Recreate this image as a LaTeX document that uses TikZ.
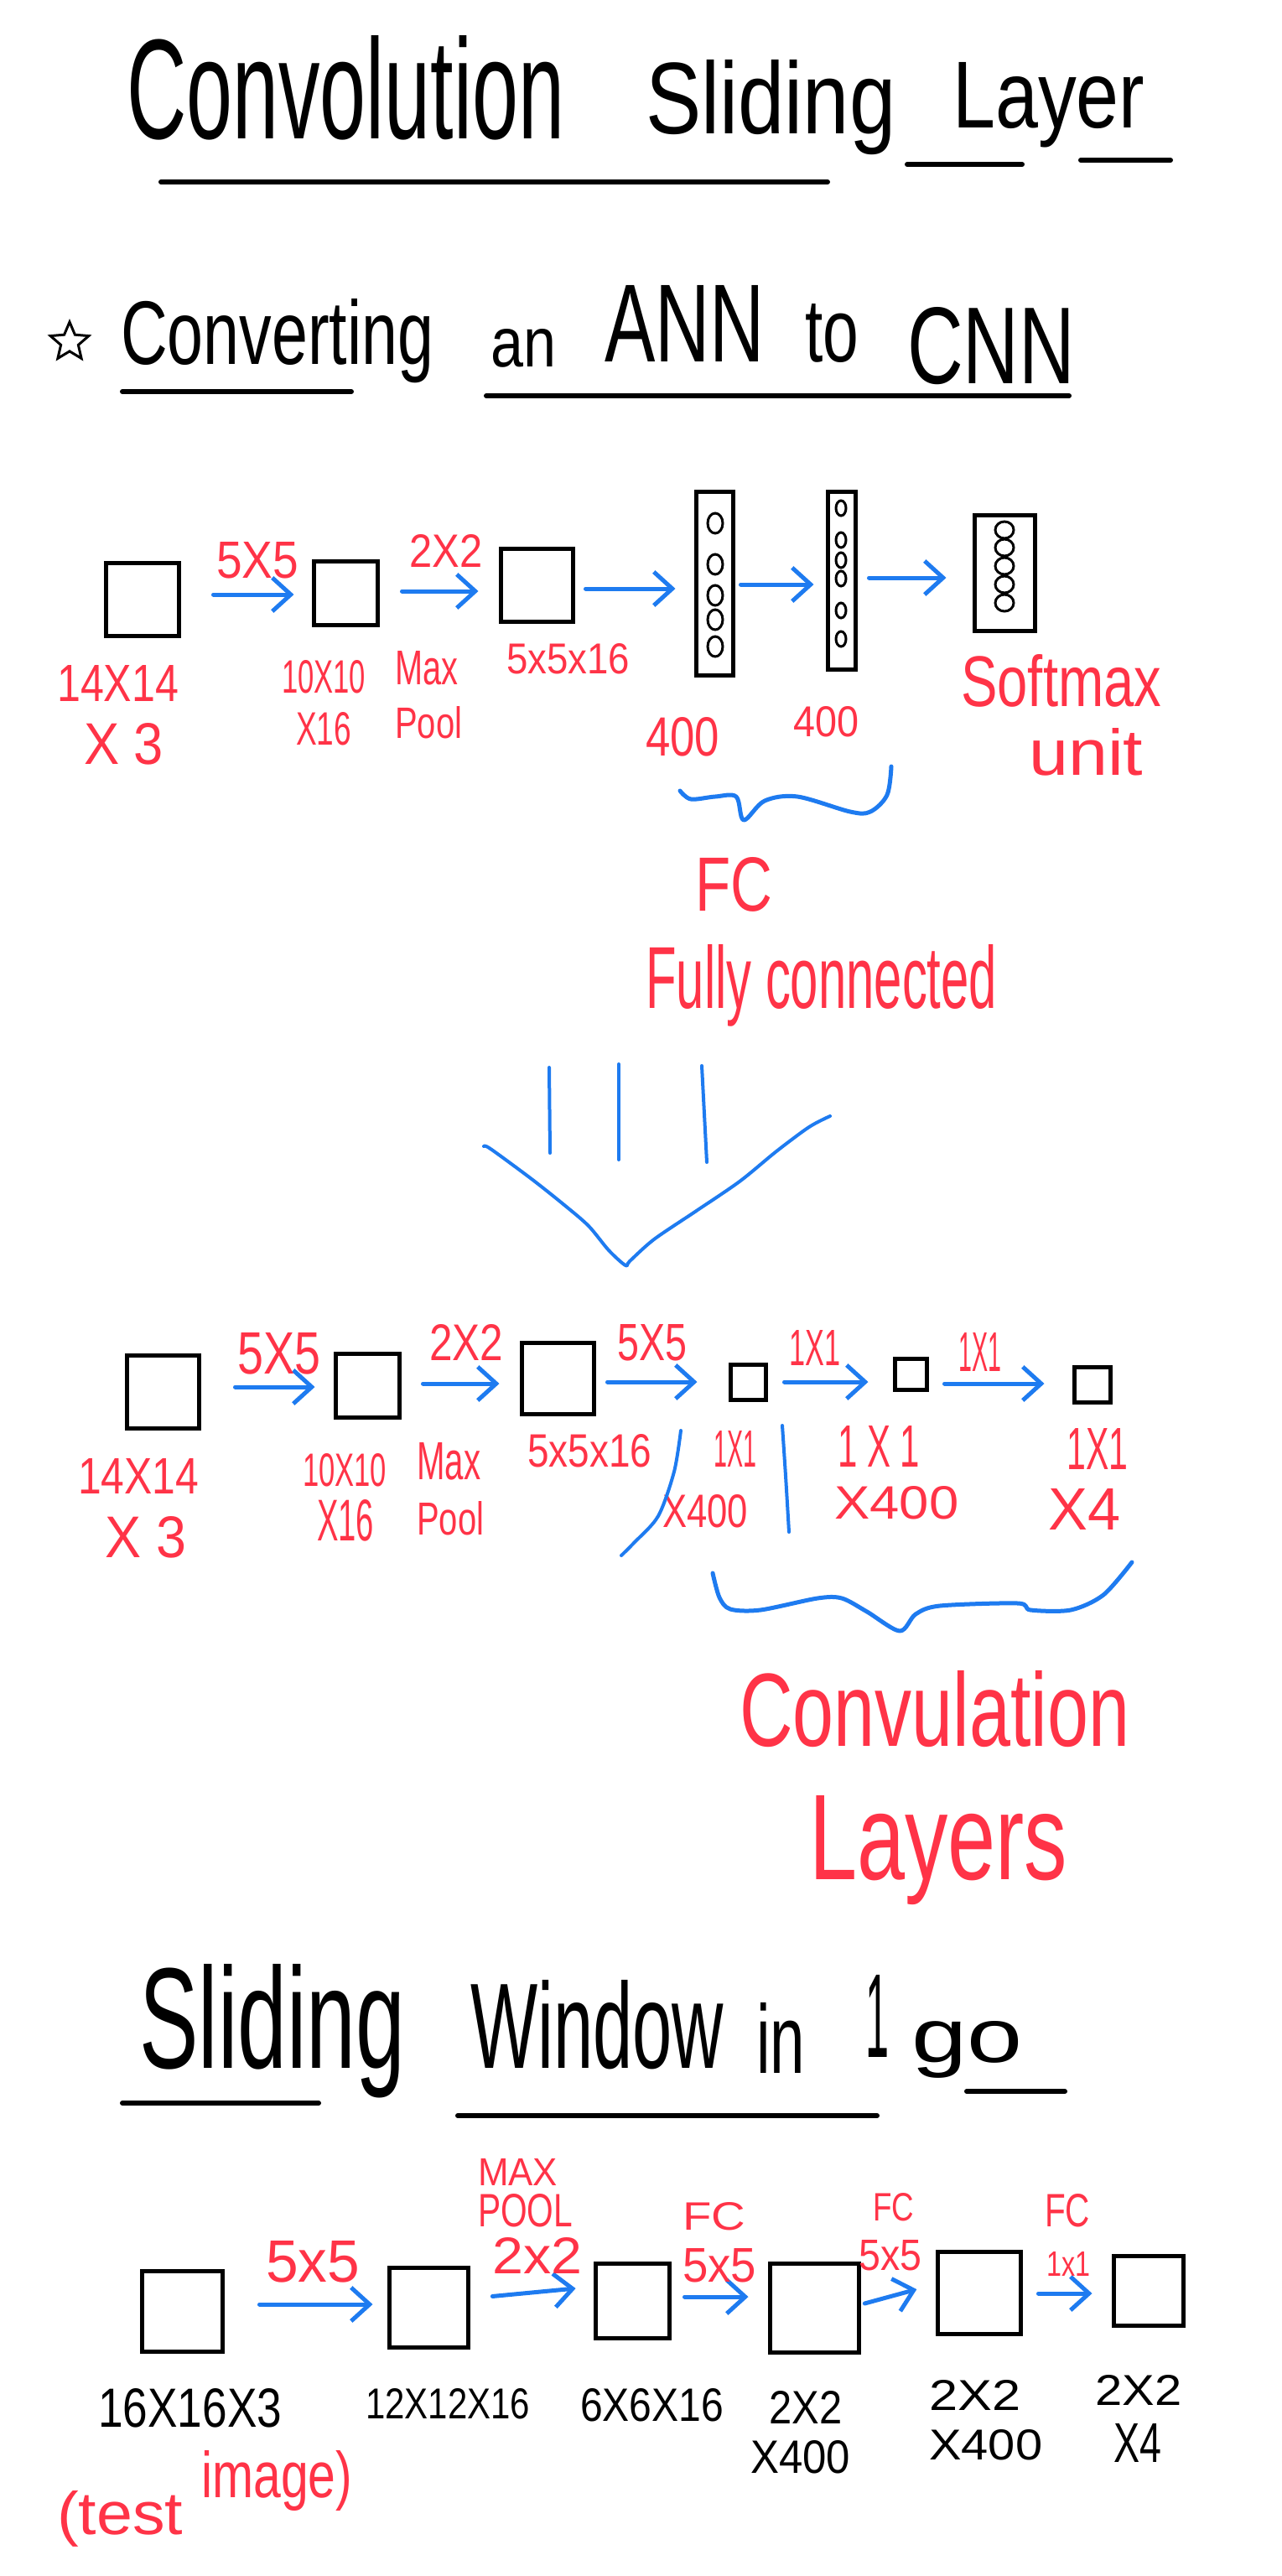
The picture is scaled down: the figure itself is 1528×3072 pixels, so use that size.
\documentclass[tikz,border=0pt]{standalone}
\usepackage{fontspec}
\setmainfont{Liberation Sans}
\usepackage{graphicx}
\usetikzlibrary{arrows.meta,shapes.geometric}
\definecolor{hred}{RGB}{255,51,71}
\definecolor{hblue}{RGB}{30,123,240}
\newcommand{\hw}[3]{\resizebox{#1pt}{#2pt}{#3}}
\begin{document}
\begin{tikzpicture}[x=1pt,y=-1pt,
  bx/.style 2 args={draw=black, line width=5pt, minimum width=#1pt, minimum height=#2pt, inner sep=0pt},
  arr/.style={hblue, line width=5pt, line cap=round, -{Straight Barb[length=22pt,width=40pt]}},
  lbl/.style={anchor=base west, inner sep=0pt, hred},
  blk/.style={anchor=base west, inner sep=0pt, black},
  uline/.style={line width=6pt, line cap=round},
  bstroke/.style={hblue, line width=5pt, line cap=round, line join=round},
  oval/.style={line width=3pt}]
\fill[white] (0,0) rectangle (1528,3072);
\useasboundingbox (0,0) rectangle (1528,3072);

% ---------- Title ----------
\node[blk] (tConv) at (151,166) {\hw{522}{123}{Convolution}};
\node[blk] (tSlid) at (770,160) {\hw{298}{88}{Sliding}};
\node[blk] (tLay) at (1136,153) {\hw{229}{78}{Layer}};
\draw[uline] (192,217) -- (987,217);
\draw[uline] (1082,196) -- (1219,196);
\draw[uline] (1289,191) -- (1396,191);

% ---------- Subtitle ----------
\node[star, star points=5, star point ratio=2.2, draw, line width=3pt, minimum size=48pt, inner sep=0pt] (star) at (83,408) {};
\node[blk] (sConv) at (144,434) {\hw{373}{78}{Converting}};
\node[blk] (sAn) at (585,437) {\hw{78}{45}{an}};
\node[blk] (sAnn) at (721,431) {\hw{191}{91}{ANN}};
\node[blk] (sTo) at (960,431) {\hw{64}{69}{to}};
\node[blk] (sCnn) at (1082,457) {\hw{200}{91}{CNN}};
\draw[uline] (146,467) -- (419,467);
\draw[uline] (580,472) -- (1275,472);

% ---------- Row 1 ----------
\node[bx={87}{87}] (pA1) at (169.5,714.5) {};
\node[bx={76}{76}] (pA2) at (412,707) {};
\node[bx={86}{87}] (pA3) at (640,697.5) {};
\node[bx={44}{219}] (pA4) at (852,695.5) {};
\node[bx={33}{212}] (pA5) at (1003.5,692) {};
\node[bx={72}{138}] (pA6) at (1198,683) {};
\foreach \yy in {624,673,710,739,771} \draw[oval] (853,\yy) ellipse [x radius=9, y radius=12];
\foreach \yy in {606,644,668,690,728,762} \draw[oval] (1003,\yy) ellipse [x radius=6, y radius=9];
\foreach \yy in {632,653,675,697,719} \draw[oval] (1198,\yy) ellipse [x radius=11, y radius=10];

\draw[arr, shorten <=39pt, shorten >=21pt] ([yshift=5.5pt]pA1.east) -- ([yshift=-2pt]pA2.west);
\draw[arr, shorten <=27pt, shorten >=24pt] ([yshift=2pt]pA2.east) -- ([yshift=-7.5pt]pA3.west);
\draw[arr, shorten <=13pt, shorten >=22pt] ([yshift=-4.5pt]pA3.east) -- ([yshift=-6.5pt]pA4.west);
\draw[arr, shorten <=7pt, shorten >=14pt] ([yshift=-1.5pt]pA4.east) -- ([yshift=-5pt]pA5.west);
\draw[arr, shorten <=14pt, shorten >=31pt] ([yshift=3pt]pA5.east) -- ([yshift=-6pt]pA6.west);

\node[lbl] (lA1) at (258,689) {\hw{98}{43}{5X5}};
\node[lbl] (lA2) at (488,676) {\hw{87}{39}{2X2}};
\node[lbl] (lA3) at (68,836) {\hw{145}{43}{14X14}};
\node[lbl] (lA4) at (100,911) {\hw{95}{49}{X 3}};
\node[lbl] (lA5) at (336,826) {\hw{100}{39}{10X10}};
\node[lbl] (lA6) at (353,888) {\hw{66}{39}{X16}};
\node[lbl] (lA7) at (471,816) {\hw{75}{40}{Max}};
\node[lbl] (lA8) at (471,880) {\hw{80}{38}{Pool}};
\node[lbl] (lA9) at (604,803) {\hw{147}{36}{5x5x16}};
\node[lbl] (lA10) at (770,901) {\hw{88}{46}{400}};
\node[lbl] (lA11) at (946,878) {\hw{78}{36}{400}};
\node[lbl] (lA12) at (1146,842) {\hw{239}{62}{Softmax}};
\node[lbl] (lA13) at (1227,924) {\hw{136}{56}{unit}};

\draw[bstroke] plot[smooth, tension=0.55] coordinates {(811,943) (824,953) (853,950) (878,950) (887,978) (912,955) (951,950) (1014,968) (1038,968) (1058,948) (1063,914)};

\node[lbl] (fc) at (829,1086) {\hw{92}{64}{FC}};
\node[lbl] (fully) at (770,1202) {\hw{419}{76}{Fully connected}};

% funnel
\draw[bstroke, line width=4pt] (655,1273) -- (656,1375);
\draw[bstroke, line width=4pt] (738,1269) -- (738,1383);
\draw[bstroke, line width=4pt] (837,1271) -- (843,1386);
\draw[bstroke, line width=4pt] plot[smooth, tension=0.5] coordinates {(577,1367) (585,1370) (634,1406) (673,1437) (702,1462) (726,1491) (746,1509) (751,1504) (780,1478) (829,1445) (882,1409) (926,1373) (965,1344) (990,1331)};

% ---------- Row 2 ----------
\node[bx={86}{87}] (pB1) at (194,1659.5) {};
\node[bx={76}{76}] (pB2) at (438,1652) {};
\node[bx={86}{85}] (pB3) at (665,1643.5) {};
\node[bx={42}{42}] (pB4) at (892,1648) {};
\node[bx={38}{37}] (pB5) at (1086,1638.5) {};
\node[bx={43}{42}] (pB6) at (1302.5,1651) {};

\draw[arr, shorten <=41pt, shorten >=22pt] ([yshift=5.5pt]pB1.east) -- ([yshift=-2pt]pB2.west);
\draw[arr, shorten <=26pt, shorten >=24pt] ([yshift=2pt]pB2.east) -- ([yshift=-6.5pt]pB3.west);
\draw[arr, shorten <=14pt, shorten >=37pt] ([yshift=-4.5pt]pB3.east) -- (pB4.west);
\draw[arr, shorten <=20pt, shorten >=29pt] (pB4.east) -- ([yshift=-9.5pt]pB5.west);
\draw[arr, shorten <=19pt, shorten >=33pt] ([yshift=-11.5pt]pB5.east) -- ([yshift=1pt]pB6.west);

\node[lbl] (lB1) at (283,1638) {\hw{99}{49}{5X5}};
\node[lbl] (lB2) at (512,1622) {\hw{88}{43}{2X2}};
\node[lbl] (lB3) at (736,1622) {\hw{83}{43}{5X5}};
\node[lbl] (lB4) at (941,1628) {\hw{61}{42}{1X1}};
\node[lbl] (lB5) at (1143,1635) {\hw{51}{46}{1X1}};
\node[lbl] (lB6) at (93,1781) {\hw{144}{42}{14X14}};
\node[lbl] (lB7) at (125,1857) {\hw{97}{49}{X 3}};
\node[lbl] (lB8) at (361,1772) {\hw{100}{39}{10X10}};
\node[lbl] (lB9) at (378,1837) {\hw{68}{49}{X16}};
\node[lbl] (lB10) at (497,1764) {\hw{76}{44}{Max}};
\node[lbl] (lB11) at (497,1830) {\hw{80}{40}{Pool}};
\node[lbl] (lB12) at (629,1749) {\hw{148}{39}{5x5x16}};
\node[lbl] (lB13) at (851,1749) {\hw{51}{43}{1X1}};
\node[lbl] (lB14) at (790,1821) {\hw{102}{39}{X400}};
\node[lbl] (lB15) at (999,1749) {\hw{98}{49}{1 X 1}};
\node[lbl] (lB16) at (995,1811) {\hw{148}{39}{X400}};
\node[lbl] (lB17) at (1272,1752) {\hw{73}{49}{1X1}};
\node[lbl] (lB18) at (1250,1824) {\hw{86}{49}{X4}};

\draw[bstroke, line width=4pt] plot[smooth, tension=0.5] coordinates {(812,1706) (804,1755) (785,1808) (756,1840) (741,1855)};
\draw[bstroke, line width=4pt] plot[smooth] coordinates {(933,1700) (937,1760) (941,1827)};
\draw[bstroke] plot[smooth, tension=0.5] coordinates {(850,1876) (858,1905) (871,1919) (907,1920) (975,1906) (1004,1906) (1034,1922) (1073,1945) (1092,1925) (1121,1915) (1214,1912) (1229,1920) (1277,1920) (1316,1902) (1350,1863)};

\node[lbl] (conv) at (882,2082) {\hw{465}{90}{Convulation}};
\node[lbl] (layers) at (965,2241) {\hw{308}{100}{Layers}};

% ---------- Sliding window ----------
\node[blk] (wSl) at (166,2466) {\hw{317}{124}{Sliding}};
\node[blk] (wWi) at (561,2466) {\hw{302}{105}{Window}};
\node[blk] (wIn) at (902,2472) {\hw{58}{84}{in}};
\node[blk] (wOne) at (1032,2453) {\hw{28}{98}{1}};
\node[blk] (wGo) at (1087,2459) {\hw{132}{49}{go}};
\draw[uline] (146,2508) -- (380,2508);
\draw[uline] (546,2523) -- (1046,2523);
\draw[uline] (1153,2494) -- (1270,2494);

% ---------- Row 3 ----------
\node[bx={96}{96}] (pC1) at (217,2756) {};
\node[bx={94}{95}] (pC2) at (511,2751.5) {};
\node[bx={88}{89}] (pC3) at (754,2743.5) {};
\node[bx={106}{106}] (pC4) at (971,2752) {};
\node[bx={99}{98}] (pC5) at (1167.5,2734) {};
\node[bx={83}{83}] (pC6) at (1369.5,2731.5) {};

\draw[arr, shorten <=42pt, shorten >=17pt] ([yshift=8pt]pC1.east) -- ([yshift=3.5pt]pC2.west);
\draw[arr, shorten <=27pt, shorten >=21pt] ([yshift=10.5pt]pC2.east) -- ([yshift=16.5pt]pC3.west);
\draw[arr, shorten <=16pt, shorten >=23pt] ([yshift=4.5pt]pC3.east) -- ([yshift=13pt]pC4.west);
\draw[arr, shorten <=5pt, shorten >=23pt] ([yshift=3.7pt]pC4.east) -- ([yshift=10pt]pC5.west);
\draw[arr, shorten <=19pt, shorten >=23pt] ([yshift=-1pt]pC5.east) -- ([yshift=-3.5pt]pC6.west);

\node[lbl] (lC1) at (317,2721) {\hw{112}{49}{5x5}};
\node[lbl] (lC2) at (570,2606) {\hw{95}{32}{MAX}};
\node[lbl] (lC3) at (570,2655) {\hw{113}{39}{POOL}};
\node[lbl] (lC4) at (587,2711) {\hw{107}{43}{2x2}};
\node[lbl] (lC5) at (814,2659) {\hw{75}{33}{FC}};
\node[lbl] (lC6) at (814,2721) {\hw{88}{40}{5x5}};
\node[lbl] (lC7) at (1041,2648) {\hw{49}{33}{FC}};
\node[lbl] (lC8) at (1024,2707) {\hw{75}{36}{5x5}};
\node[lbl] (lC9) at (1246,2655) {\hw{54}{39}{FC}};
\node[lbl] (lC10) at (1248,2714) {\hw{52}{29}{1x1}};

\node[blk] (kC1) at (117,2894) {\hw{219}{46}{16X16X3}};
\node[blk] (kC2) at (436,2884) {\hw{196}{36}{12X12X16}};
\node[blk] (kC3) at (692,2887) {\hw{171}{39}{6X6X16}};
\node[blk] (kC4) at (917,2890) {\hw{87}{39}{2X2}};
\node[blk] (kC5) at (895,2949) {\hw{119}{39}{X400}};
\node[blk] (kC6) at (1108,2874) {\hw{109}{36}{2X2}};
\node[blk] (kC7) at (1108,2933) {\hw{135}{36}{X400}};
\node[blk] (kC8) at (1306,2868) {\hw{103}{36}{2X2}};
\node[blk] (kC9) at (1328,2936) {\hw{57}{46}{X4}};

\node[lbl] (testA) at (68,3022) {\hw{150}{52}{(test}};
\node[lbl] (testB) at (240,2978) {\hw{180}{56}{image)}};
\end{tikzpicture}
\end{document}
